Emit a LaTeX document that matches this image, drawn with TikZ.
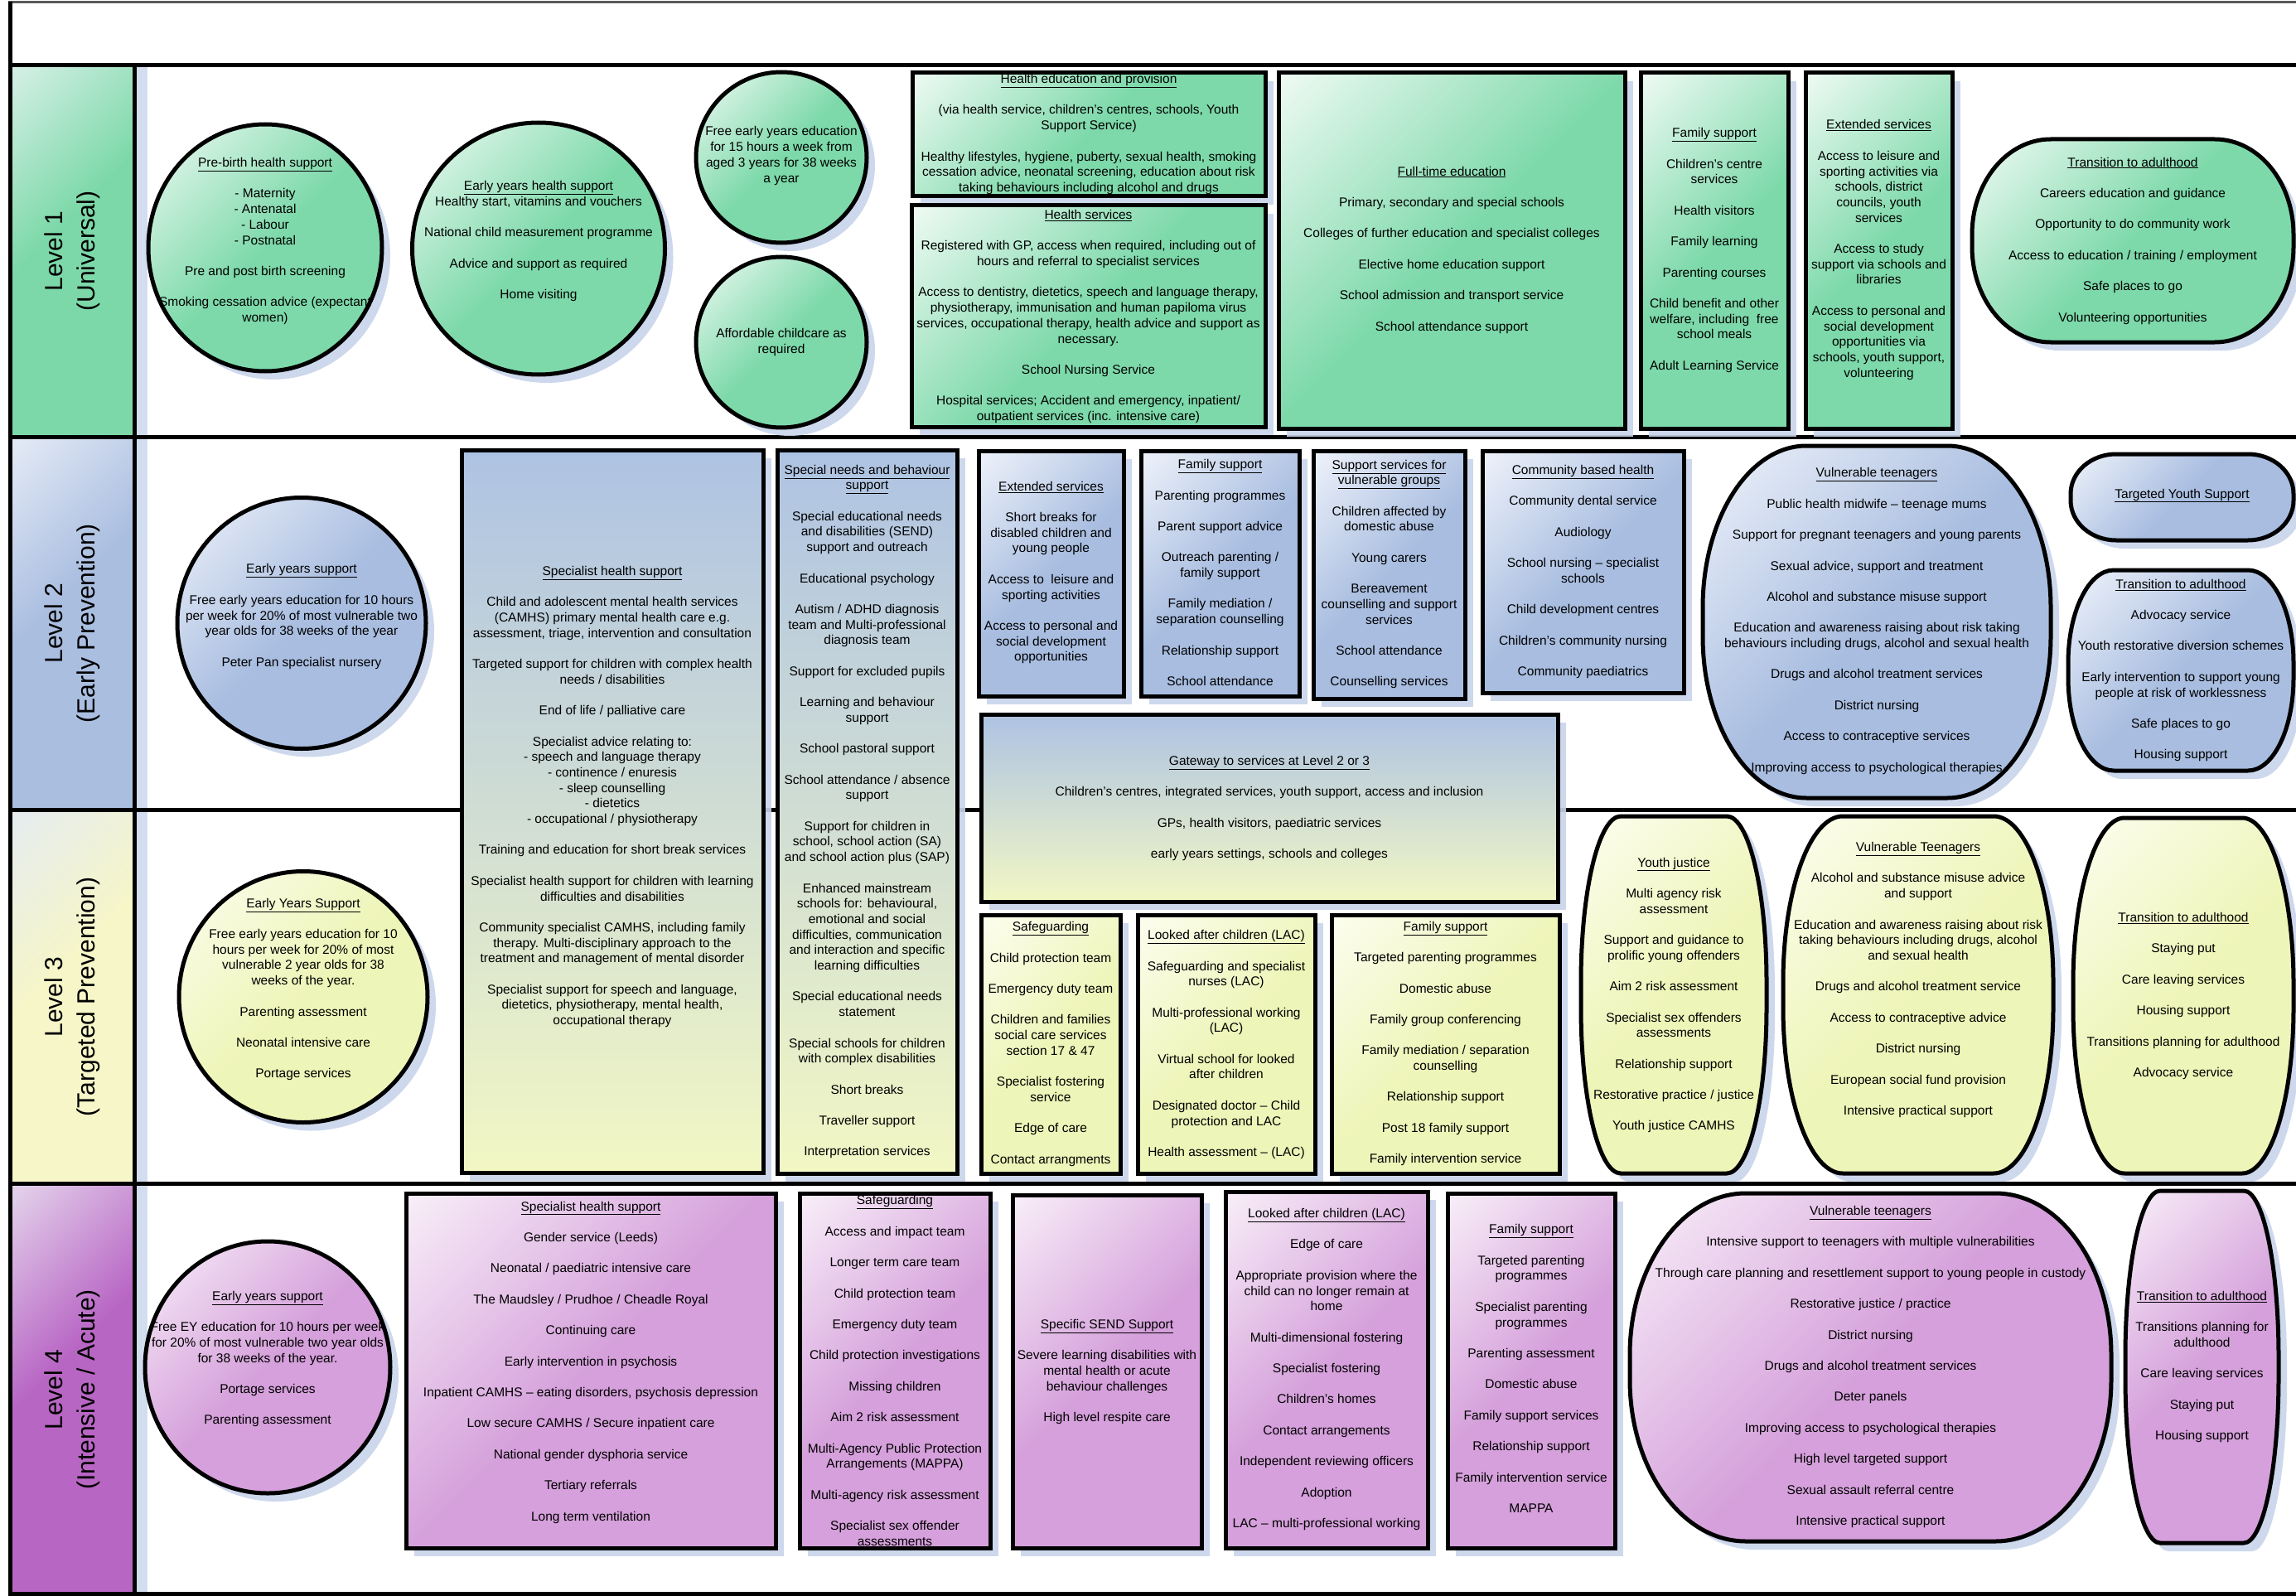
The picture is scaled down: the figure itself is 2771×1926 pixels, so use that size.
\documentclass[tikz,border=0pt]{standalone}
\usepackage{fontspec}
\setmainfont{Liberation Sans}
\usetikzlibrary{shapes.geometric,shadows}
\definecolor{gD}{RGB}{125,217,170}
\definecolor{gL}{RGB}{238,250,243}
\definecolor{bD}{RGB}{168,189,224}
\definecolor{bL}{RGB}{238,242,250}
\definecolor{yD}{RGB}{238,245,184}
\definecolor{yL}{RGB}{252,253,238}
\definecolor{pD}{RGB}{213,160,219}
\definecolor{pL}{RGB}{248,238,248}
\definecolor{shB}{RGB}{200,212,236}
\definecolor{vT}{RGB}{174,195,227}
\definecolor{vM}{RGB}{206,219,216}
\definecolor{vB}{RGB}{242,247,196}
\definecolor{sOneD}{RGB}{124,216,168}
\definecolor{sOneL}{RGB}{222,242,236}
\definecolor{sTwoD}{RGB}{170,190,224}
\definecolor{sTwoL}{RGB}{234,239,248}
\definecolor{sThrD}{RGB}{246,246,200}
\definecolor{sThrL}{RGB}{228,235,244}
\definecolor{sFouD}{RGB}{184,102,196}
\definecolor{sFouL}{RGB}{232,222,240}
\pgfdeclareverticalshading{gsh}{100bp}{color(0bp)=(gD); color(50bp)=(gD); color(85bp)=(gL); color(100bp)=(gL)}
\pgfdeclareverticalshading{bsh}{100bp}{color(0bp)=(bD); color(50bp)=(bD); color(85bp)=(bL); color(100bp)=(bL)}
\pgfdeclareverticalshading{ysh}{100bp}{color(0bp)=(yD); color(50bp)=(yD); color(85bp)=(yL); color(100bp)=(yL)}
\pgfdeclareverticalshading{psh}{100bp}{color(0bp)=(pD); color(50bp)=(pD); color(85bp)=(pL); color(100bp)=(pL)}
\pgfdeclareverticalshading{sone}{100bp}{color(0bp)=(sOneD); color(55bp)=(sOneD); color(88bp)=(sOneL); color(100bp)=(sOneL)}
\pgfdeclareverticalshading{stwo}{100bp}{color(0bp)=(sTwoD); color(55bp)=(sTwoD); color(88bp)=(sTwoL); color(100bp)=(sTwoL)}
\pgfdeclareverticalshading{sthr}{100bp}{color(0bp)=(sThrD); color(55bp)=(sThrD); color(88bp)=(sThrL); color(100bp)=(sThrL)}
\pgfdeclareverticalshading{sfou}{100bp}{color(0bp)=(sFouD); color(55bp)=(sFouD); color(88bp)=(sFouL); color(100bp)=(sFouL)}
\newcommand\blk{\\[18.7pt]}
\newcommand\uln[1]{\underline{#1}}
% rounded outline with elliptical corners round a named (invisible) node
\newcommand\blob[4]{%
  \path[#2] ([xshift=#3]#1.north west) -- ([xshift=-#3]#1.north east)
    arc[start angle=90,end angle=0,x radius=#3,y radius=#4]
    -- ([yshift=#4]#1.south east)
    arc[start angle=0,end angle=-90,x radius=#3,y radius=#4]
    -- ([xshift=#3]#1.south west)
    arc[start angle=-90,end angle=-180,x radius=#3,y radius=#4]
    -- ([yshift=-#4]#1.north west)
    arc[start angle=180,end angle=90,x radius=#3,y radius=#4] -- cycle;}
\begin{document}
\begin{tikzpicture}[x=1pt,y=-1pt,
  shad/.style={drop shadow={shadow xshift=10pt,shadow yshift=-10pt,fill=shB,opacity=0.9}},
  bx/.style={draw=black,line width=5pt,inner sep=0pt,shade,shading=#1,shading angle=45,shad},
  el/.style={bx=#1,ellipse},
  bxv/.style={draw=black,line width=5pt,inner sep=0pt,top color=vT,middle color=vM,bottom color=vB,shad},
  frame/.style={inner sep=0pt,outer sep=0pt},
  stripbox/.style={draw=none,inner sep=0pt,shade,shading=#1,shading angle=45,minimum width=150pt},
  txt/.style={align=center,inner sep=0pt,font=\fontsize{15.5pt}{18.7pt}\selectfont},
  lvl/.style={align=center,inner sep=0pt,rotate=90,font=\fontsize{30pt}{39pt}\selectfont}]
\useasboundingbox (0,0) rectangle (2771,1926);
\fill[white] (0,0) rectangle (2771,1926);
% level strips
\fill[shB!80] (162,79) rectangle (178,1925);
\node[stripbox=sone,minimum height=448pt] (lv1) at (87,303) {};
\node[stripbox=stwo,minimum height=450pt] (lv2) at (87,752) {};
\node[stripbox=sthr,minimum height=451pt] (lv3) at (87,1202.5) {};
\node[stripbox=sfou,minimum height=497pt] (lv4) at (87,1676.5) {};
\node[lvl] (lv1T) at (87,303) {Level 1\\(Universal)};
\node[lvl] (lv2T) at (87,752) {Level 2\\(Early Prevention)};
\node[lvl] (lv3T) at (87,1203) {Level 3\\(Targeted Prevention)};
\node[lvl] (lv4T) at (87,1677) {Level 4\\(Intensive / Acute)};
% frame
\draw[black!65,line width=3pt] (10,3) -- (2771,3);
\draw[line width=5pt] (12,2) -- (12,1925);
\foreach \yy in {79,527,977,1428,1923} \draw[line width=5pt] (10,\yy) -- (2771,\yy);
\draw[line width=5pt] (162,79) -- (162,1925);

% ---------------- Level 1 ----------------
\node[el=gsh,minimum width=282pt,minimum height=298pt] (pb) at (320,299) {};
\node[txt] (pbT) at (320,291) {\uln{Pre-birth health support}\blk - Maternity\\- Antenatal\\- Labour\\- Postnatal\blk Pre and post birth screening\blk Smoking cessation advice (expectant\\women)};
\node[el=gsh,minimum width=305pt,minimum height=304pt] (ey) at (650,300) {};
\node[txt] (eyT) at (650,291) {\uln{Early years health support}\\Healthy start, vitamins and vouchers\blk National child measurement programme\blk Advice and support as required\blk Home visiting};
\node[el=gsh,minimum width=206pt,minimum height=206pt] (fe) at (943,190) {};
\node[txt] (feT) at (943,188) {Free early years education\\for 15 hours a week from\\aged 3 years for 38 weeks\\a year};
\node[el=gsh,minimum width=206pt,minimum height=206pt] (ac) at (943,413) {};
\node[txt] (acT) at (943,413) {Affordable childcare as\\required};
\node[bx=gsh,minimum width=426pt,minimum height=149pt] (he) at (1314,162.5) {};
\node[txt] (heT) at (1314,162) {\uln{Health education and provision}\blk (via health service, children’s centres, schools, Youth\\Support Service)\blk Healthy lifestyles, hygiene, puberty, sexual health, smoking\\cessation advice, neonatal screening, education about risk\\taking behaviours including alcohol and drugs};
\node[bx=gsh,minimum width=427pt,minimum height=267pt] (hs) at (1313.5,381.5) {};
\node[txt] (hsT) at (1313.5,382) {\uln{Health services}\blk Registered with GP, access when required, including out of\\hours and referral to specialist services\blk Access to dentistry, dietetics, speech and language therapy,\\physiotherapy, immunisation and human papiloma virus\\services, occupational therapy, health advice and support as\\necessary.\blk School Nursing Service\blk Hospital services; Accident and emergency, inpatient/\\outpatient services (inc. intensive care)};
\node[bx=gsh,minimum width=418pt,minimum height=429pt] (ft) at (1752,302.5) {};
\node[txt] (ftT) at (1752,301.5) {\uln{Full-time education}\blk Primary, secondary and special schools\blk Colleges of further education and specialist colleges\blk Elective home education support\blk School admission and transport service\blk School attendance support};
\node[bx=gsh,minimum width=178pt,minimum height=429pt] (fs) at (2069,302.5) {};
\node[txt] (fsT) at (2069,302) {\uln{Family support}\blk Children’s centre\\services\blk Health visitors\blk Family learning\blk Parenting courses\blk Child benefit and other\\welfare, including\ \ free\\school meals\blk Adult Learning Service};
\node[bx=gsh,minimum width=177pt,minimum height=429pt] (es) at (2267.5,302.5) {};
\node[txt] (esT) at (2267.5,301.5) {\uln{Extended services}\blk Access to leisure and\\sporting activities via\\schools, district\\councils, youth\\services\blk Access to study\\support via schools and\\libraries\blk Access to personal and\\social development\\opportunities via\\schools, youth support,\\volunteering};
\node[frame,minimum width=388pt,minimum height=245pt] (ta1) at (2574,290.5) {};
\blob{ta1}{bx=gsh}{95pt}{115pt}
\node[txt] (ta1T) at (2574,290.5) {\uln{Transition to adulthood}\blk Careers education and guidance\blk Opportunity to do community work\blk Access to education / training / employment\blk Safe places to go\blk Volunteering opportunities};

% ---------------- Level 2 ----------------
\node[el=bsh,minimum width=300pt,minimum height=303pt] (eys2) at (364,752) {};
\node[txt] (eys2T) at (364,744) {\uln{Early years support}\blk Free early years education for 10 hours\\per week for 20\% of most vulnerable two\\year olds for 38 weeks of the year\blk Peter Pan specialist nursery};
\node[bxv,minimum width=364pt,minimum height=872pt] (shs) at (739,979) {};
\node[txt] (shsT) at (739,961.5) {\uln{Specialist health support}\blk Child and adolescent mental health services\\(CAMHS) primary mental health care e.g.\\assessment, triage, intervention and consultation\blk Targeted support for children with complex health\\needs / disabilities\blk End of life / palliative care\blk Specialist advice relating to:\\- speech and language therapy\\- continence / enuresis\\- sleep counselling\\- dietetics\\- occupational / physiotherapy\blk Training and education for short break services\blk Specialist health support for children with learning\\difficulties and disabilities\blk Community specialist CAMHS, including family\\therapy. Multi-disciplinary approach to the\\treatment and management of mental disorder\blk Specialist support for speech and language,\\dietetics, physiotherapy, mental health,\\occupational therapy};
\node[bxv,minimum width=217pt,minimum height=873pt] (snb) at (1046.5,979.5) {};
\node[txt] (snbT) at (1046.5,979.5) {\uln{Special needs and behaviour}\\\uln{support}\blk Special educational needs\\and disabilities (SEND)\\support and outreach\blk Educational psychology\blk Autism / ADHD diagnosis\\team and Multi-professional\\diagnosis team\blk Support for excluded pupils\blk Learning and behaviour\\support\blk School pastoral support\blk School attendance / absence\\support\blk Support for children in\\school, school action (SA)\\and school action plus (SAP)\blk Enhanced mainstream\\schools for: behavioural,\\emotional and social\\difficulties, communication\\and interaction and specific\\learning difficulties\blk Special educational needs\\statement\blk Special schools for children\\with complex disabilities\blk Short breaks\blk Traveller support\blk Interpretation services};
\node[bx=bsh,minimum width=175pt,minimum height=296pt] (es2) at (1268.5,692) {};
\node[txt] (es2T) at (1268.5,691) {\uln{Extended services}\blk Short breaks for\\disabled children and\\young people\blk Access to\ \ leisure and\\sporting activities\blk Access to personal and\\social development\\opportunities};
\node[bx=bsh,minimum width=191pt,minimum height=296pt] (fs2) at (1472.5,692) {};
\node[txt] (fs2T) at (1472.5,691) {\uln{Family support}\blk Parenting programmes\blk Parent support advice\blk Outreach parenting /\\family support\blk Family mediation /\\separation counselling\blk Relationship support\blk School attendance};
\node[bx=bsh,minimum width=183pt,minimum height=299pt] (svg) at (1676.5,693.5) {};
\node[txt] (svgT) at (1676.5,693) {\uln{Support services for}\\\uln{vulnerable groups}\blk Children affected by\\domestic abuse\blk Young carers\blk Bereavement\\counselling and support\\services\blk School attendance\blk Counselling services};
\node[bx=bsh,minimum width=243pt,minimum height=292pt] (cbh) at (1910.5,690) {};
\node[txt] (cbhT) at (1910.5,690) {\uln{Community based health}\blk Community dental service\blk Audiology\blk School nursing – specialist\\schools\blk Child development centres\blk Children’s community nursing\blk Community paediatrics};
\node[bxv,minimum width=696pt,minimum height=226pt] (gw) at (1532,975) {};
\node[txt] (gwT) at (1532,975.5) {\uln{Gateway to services at Level 2 or 3}\blk Children’s centres, integrated services, youth support, access and inclusion\blk GPs, health visitors, paediatric services\blk early years settings, schools and colleges};
\node[frame,minimum width=420pt,minimum height=425pt] (vt2) at (2265,750.5) {};
\blob{vt2}{bx=bsh}{125pt}{195pt}
\node[txt] (vt2T) at (2265,749.5) {\uln{Vulnerable teenagers}\blk Public health midwife – teenage mums\blk Support for pregnant teenagers and young parents\blk Sexual advice, support and treatment\blk Alcohol and substance misuse support\blk Education and awareness raising about risk taking\\behaviours including drugs, alcohol and sexual health\blk Drugs and alcohol treatment services\blk District nursing\blk Access to contraceptive services\blk Improving access to psychological therapies};
\node[frame,minimum width=269pt,minimum height=104pt] (tys) at (2633.5,600) {};
\blob{tys}{bx=bsh}{55pt}{48pt}
\node[txt] (tysT) at (2633.5,598) {\uln{Targeted Youth Support}};
\node[frame,minimum width=272pt,minimum height=242pt] (ta2) at (2632,809) {};
\blob{ta2}{bx=bsh}{55pt}{112pt}
\node[txt] (ta2T) at (2632,809) {\uln{Transition to adulthood}\blk Advocacy service\blk Youth restorative diversion schemes\blk Early intervention to support young\\people at risk of worklessness\blk Safe places to go\blk Housing support};

% ---------------- Level 3 ----------------
\node[el=ysh,minimum width=300pt,minimum height=303pt] (eys3) at (366,1203) {};
\node[txt] (eys3T) at (366,1194) {\uln{Early Years Support}\blk Free early years education for 10\\hours per week for 20\% of most\\vulnerable 2 year olds for 38\\weeks of the year.\blk Parenting assessment\blk Neonatal intensive care\blk Portage services};
\node[bx=ysh,minimum width=168pt,minimum height=312pt] (sg3) at (1268,1260) {};
\node[txt] (sg3T) at (1268,1260) {\uln{Safeguarding}\blk Child protection team\blk Emergency duty team\blk Children and families\\social care services\\section 17 \& 47\blk Specialist fostering\\service\blk Edge of care\blk Contact arrangments};
\node[bx=ysh,minimum width=214pt,minimum height=312pt] (lac3) at (1480,1260) {};
\node[txt] (lac3T) at (1480,1260.5) {\uln{Looked after children (LAC)}\blk Safeguarding and specialist\\nurses (LAC)\blk Multi-professional working\\(LAC)\blk Virtual school for looked\\after children\blk Designated doctor – Child\\protection and LAC\blk Health assessment – (LAC)};
\node[bx=ysh,minimum width=275pt,minimum height=312pt] (fs3) at (1744.5,1260) {};
\node[txt] (fs3T) at (1744.5,1259.5) {\uln{Family support}\blk Targeted parenting programmes\blk Domestic abuse\blk Family group conferencing\blk Family mediation / separation\\counselling\blk Relationship support\blk Post 18 family support\blk Family intervention service};
\node[frame,minimum width=224pt,minimum height=431pt] (yj) at (2020,1200.5) {};
\blob{yj}{bx=ysh}{48pt}{200pt}
\node[txt] (yjT) at (2020,1201) {\uln{Youth justice}\blk Multi agency risk\\assessment\blk Support and guidance to\\prolific young offenders\blk Aim 2 risk assessment\blk Specialist sex offenders\\assessments\blk Relationship support\blk Restorative practice / justice\blk Youth justice CAMHS};
\node[frame,minimum width=326pt,minimum height=431pt] (vt3) at (2315,1200.5) {};
\blob{vt3}{bx=ysh}{72pt}{200pt}
\node[txt] (vt3T) at (2315,1182.5) {\uln{Vulnerable Teenagers}\blk Alcohol and substance misuse advice\\and support\blk Education and awareness raising about risk\\taking behaviours including drugs, alcohol\\and sexual health\blk Drugs and alcohol treatment service\blk Access to contraceptive advice\blk District nursing\blk European social fund provision\blk Intensive practical support};
\node[frame,minimum width=266pt,minimum height=429pt] (ta3) at (2635,1201.5) {};
\blob{ta3}{bx=ysh}{62pt}{200pt}
\node[txt] (ta3T) at (2635,1202) {\uln{Transition to adulthood}\blk Staying put\blk Care leaving services\blk Housing support\blk Transitions planning for adulthood\blk Advocacy service};

% ---------------- Level 4 ----------------
\node[el=psh,minimum width=296pt,minimum height=304pt] (eys4) at (323,1650) {};
\node[txt] (eys4T) at (323,1640) {\uln{Early years support}\blk Free EY education for 10 hours per week\\for 20\% of most vulnerable two year olds\\for 38 weeks of the year.\blk Portage services\blk Parenting assessment};
\node[bx=psh,minimum width=446pt,minimum height=428pt] (shs4) at (713,1654) {};
\node[txt] (shs4T) at (713,1644) {\uln{Specialist health support}\blk Gender service (Leeds)\blk Neonatal / paediatric intensive care\blk The Maudsley / Prudhoe / Cheadle Royal\blk Continuing care\blk Early intervention in psychosis\blk Inpatient CAMHS – eating disorders, psychosis depression\blk Low secure CAMHS / Secure inpatient care\blk National gender dysphoria service\blk Tertiary referrals\blk Long term ventilation};
\node[bx=psh,minimum width=230pt,minimum height=428pt] (sg4) at (1080,1654) {};
\node[txt] (sg4T) at (1080,1654) {\uln{Safeguarding}\blk Access and impact team\blk Longer term care team\blk Child protection team\blk Emergency duty team\blk Child protection investigations\blk Missing children\blk Aim 2 risk assessment\blk Multi-Agency Public Protection\\Arrangements (MAPPA)\blk Multi-agency risk assessment\blk Specialist sex offender\\assessments};
\node[bx=psh,minimum width=228pt,minimum height=426pt] (send) at (1336,1655) {};
\node[txt] (sendT) at (1336,1655.5) {\uln{Specific SEND Support}\blk Severe learning disabilities with\\mental health or acute\\behaviour challenges\blk High level respite care};
\node[bx=psh,minimum width=244pt,minimum height=430pt] (lac4) at (1601,1653) {};
\node[txt] (lac4T) at (1601,1652.5) {\uln{Looked after children (LAC)}\blk Edge of care\blk Appropriate provision where the\\child can no longer remain at\\home\blk Multi-dimensional fostering\blk Specialist fostering\blk Children’s homes\blk Contact arrangements\blk Independent reviewing officers\blk Adoption\blk LAC – multi-professional working};
\node[bx=psh,minimum width=202pt,minimum height=428pt] (fs4) at (1848,1654) {};
\node[txt] (fs4T) at (1848,1651.5) {\uln{Family support}\blk Targeted parenting\\programmes\blk Specialist parenting\\programmes\blk Parenting assessment\blk Domestic abuse\blk Family support services\blk Relationship support\blk Family intervention service\blk MAPPA};
\node[frame,minimum width=581pt,minimum height=420pt] (vt4) at (2257.5,1650) {};
\blob{vt4}{bx=psh}{140pt}{195pt}
\node[txt] (vt4T) at (2257.5,1649.5) {\uln{Vulnerable teenagers}\blk Intensive support to teenagers with multiple vulnerabilities\blk Through care planning and resettlement support to young people in custody\blk Restorative justice / practice\blk District nursing\blk Drugs and alcohol treatment services\blk Deter panels\blk Improving access to psychological therapies\blk High level targeted support\blk Sexual assault referral centre\blk Intensive practical support};
\node[frame,minimum width=185pt,minimum height=425pt] (ta4) at (2657.5,1649.5) {};
\blob{ta4}{bx=psh}{42pt}{200pt}
\node[txt] (ta4T) at (2657.5,1649.5) {\uln{Transition to adulthood}\blk Transitions planning for\\adulthood\blk Care leaving services\blk Staying put\blk Housing support};
\end{tikzpicture}
\end{document}
